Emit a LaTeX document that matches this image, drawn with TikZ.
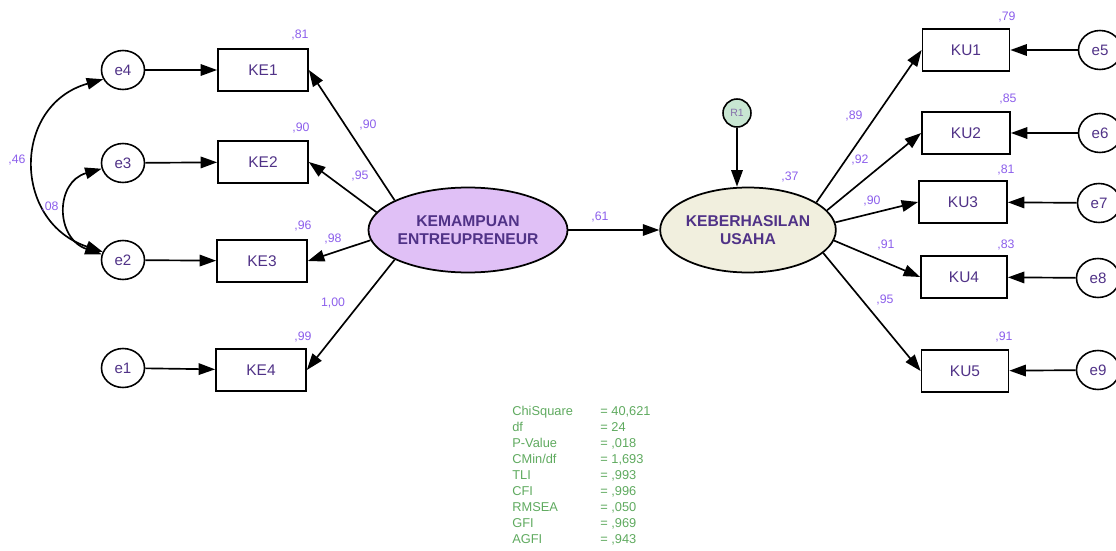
\documentclass[tikz,border=0pt]{standalone}
\usepackage{fontspec}
\setmainfont{Liberation Sans}
\usetikzlibrary{shapes.geometric,arrows.meta}
\definecolor{labcol}{RGB}{140,95,235}
\definecolor{txtcol}{RGB}{80,50,135}
\definecolor{kemfill}{RGB}{224,192,246}
\definecolor{kebfill}{RGB}{241,239,222}
\definecolor{rfill}{RGB}{200,230,210}
\definecolor{statcol}{RGB}{95,170,95}
\begin{document}
\begin{tikzpicture}[x=0.02cm,y=-0.02cm,
  every node/.style={inner sep=0pt},
  lat/.style={ellipse,draw,line width=1pt,align=center,text=txtcol,
    font=\fontsize{8.9}{10.2}\selectfont\bfseries},
  obs/.style={rectangle,draw,line width=1pt,minimum width=1.8cm,minimum height=0.85cm,
    text=txtcol,font=\fontsize{8.8}{10}\selectfont},
  err/.style={ellipse,draw,line width=0.9pt,minimum width=0.86cm,minimum height=0.78cm,
    text=txtcol,font=\fontsize{8.6}{10}\selectfont},
  lab/.style={text=labcol,font=\fontsize{7}{8}\selectfont},
  tip/.style={},
  arr/.style={line width=0.95pt,-{Triangle[length=3.3mm,width=2.3mm]}},
  cov/.style={line width=0.95pt,{Triangle[length=3.3mm,width=2.3mm]}-{Triangle[length=3.3mm,width=2.3mm]}}
]
\useasboundingbox (0,0) rectangle (1116,551);
% latent variables
\node[lat,fill=kemfill,minimum width=3.66cm,minimum height=1.7cm] (kem) at (468,230) {KEMAMPUAN\\ENTREUPRENEUR};
\node[lat,fill=kebfill,minimum width=3.48cm,minimum height=1.7cm] (keb) at (748,230) {KEBERHASILAN\\USAHA};
\node[circle,draw,line width=0.9pt,fill=rfill,minimum size=0.56cm,text=txtcol!70,font=\fontsize{6}{7}\selectfont] (r1) at (737,113) {R1};
% left indicators
\node[obs] (ke1) at (263,70) {KE1};
\node[obs] (ke2) at (263,162) {KE2};
\node[obs] (ke3) at (262,261) {KE3};
\node[obs] (ke4) at (261,370) {KE4};
\node[err] (e4) at (123,70) {e4};
\node[err] (e3) at (123,163) {e3};
\node[err] (e2) at (123,260) {e2};
\node[err] (e1) at (123,368) {e1};
% right indicators
\node[obs,minimum width=1.74cm] (ku1) at (966,50) {KU1};
\node[obs,minimum width=1.76cm] (ku2) at (966,133) {KU2};
\node[obs,minimum width=1.76cm] (ku3) at (963,202) {KU3};
\node[obs,minimum width=1.72cm] (ku4) at (964,277) {KU4};
\node[obs,minimum width=1.74cm] (ku5) at (965,371) {KU5};
\node[err] (e5) at (1100,50) {e5};
\node[err] (e6) at (1100,133) {e6};
\node[err] (e7) at (1099,203) {e7};
\node[err] (e8) at (1098,278) {e8};
\node[err] (e9) at (1098,370) {e9};
% arrows left
\draw[arr] (e4) -- (ke1);
\draw[arr] (e3) -- (ke2);
\draw[arr] (e2) -- (ke3);
\draw[arr] (e1) -- (ke4);
\draw[arr] (kem.158) -- (ke1.east);
\draw[arr] (kem.169) -- (ke2.east);
\draw[arr] (kem.186) -- (ke3.east);
\draw[arr] (kem.202) -- (ke4.east);
\draw[cov] (e4.205) .. controls (12,105) and (12,222) .. (e2.158);
\draw[cov] (e3.195) .. controls (55,182) and (55,238) .. (e2.165);
% structural
\draw[arr] (kem) -- (keb);
\draw[arr] (r1) -- (r1 |- keb.north);
% arrows right
\draw[arr] (keb.22) -- (ku1.west);
\draw[arr] (keb.14) -- (ku2.west);
\draw[arr] (keb.5) -- (ku3.west);
\draw[arr] (keb.-7) -- (ku4.west);
\draw[arr] (keb.-17) -- (ku5.west);
\draw[arr] (e5) -- (ku1);
\draw[arr] (e6) -- (ku2);
\draw[arr] (e7) -- (ku3);
\draw[arr] (e8) -- (ku4);
\draw[arr] (e9) -- (ku5);
% labels
\node[lab] (l1) at (300,35) {,81};
\node[lab] (l2) at (301,128) {,90};
\node[lab] (l3) at (303,226) {,96};
\node[lab] (l4) at (303,337) {,99};
\node[lab] (l5) at (368,125) {,90};
\node[lab] (l6) at (360,176) {,95};
\node[lab] (l7) at (333,239) {,98};
\node[lab] (l8) at (333,303) {1,00};
\node[lab] (l9) at (17,160) {,46};
\node[lab] (l10) at (50,207) {,08};
\node[lab] (l11) at (600,217) {,61};
\node[lab] (l12) at (790,177) {,37};
\node[lab] (l13) at (1007,17) {,79};
\node[lab] (l14) at (1008,99) {,85};
\node[lab] (l15) at (1006,170) {,81};
\node[lab] (l16) at (1006,245) {,83};
\node[lab] (l17) at (1004,337) {,91};
\node[lab] (l18) at (854,116) {,89};
\node[lab] (l19) at (860,160) {,92};
\node[lab] (l20) at (872,201) {,90};
\node[lab] (l21) at (886,245) {,91};
\node[lab] (l22) at (885,300) {,95};
% fit statistics
\node[anchor=north west,text=statcol,font=\fontsize{7.3}{9.1}\selectfont,align=left] (stats) at (512,404) {%
\begin{tabular}{@{}p{1.76cm}@{}l@{}}
ChiSquare & = 40,621\\
df & = 24\\
P-Value & = ,018\\
CMin/df & = 1,693\\
TLI & = ,993\\
CFI & = ,996\\
RMSEA & = ,050\\
GFI & = ,969\\
AGFI & = ,943
\end{tabular}};
\end{tikzpicture}
\end{document}
